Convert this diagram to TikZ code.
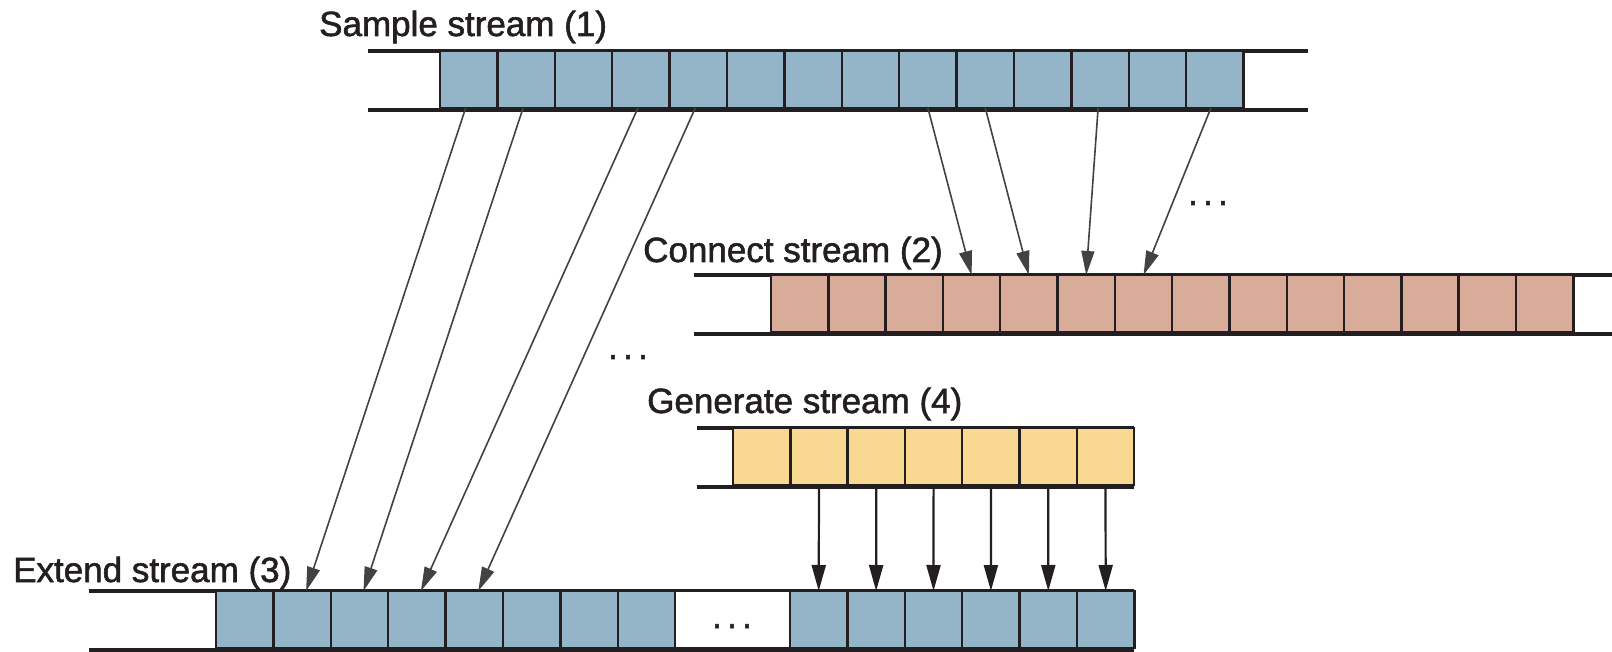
\documentclass[tikz,border=0pt]{standalone}
\usepackage{fontspec}
\setmainfont{Liberation Sans}
\newfontfamily\lblfont[FakeBold=1.6]{Liberation Sans}
\usetikzlibrary{arrows.meta}
\definecolor{cblue}{RGB}{148,180,199}
\definecolor{cpink}{RGB}{217,172,154}
\definecolor{cyel}{RGB}{249,216,145}
\definecolor{ink}{RGB}{35,31,32}
\begin{document}
\begin{tikzpicture}[x=1pt,y=-1pt,
  cell/.style={draw=ink, line width=2.4pt, minimum width=57.4pt, minimum height=57pt, inner sep=0pt, outer sep=0pt, anchor=north west},
  rail/.style={draw=ink, line width=3.6pt},
  lbl/.style={font=\lblfont\fontsize{35}{40}\selectfont, text=ink, inner sep=0pt, anchor=base west},
  dotsty/.style={font=\lblfont\fontsize{35}{40}\selectfont, text=ink, inner sep=0pt, anchor=base},
  thinarr/.style={draw=ink!85, line width=1.6pt, -{Triangle[length=24pt,width=13pt]}},
  genarr/.style={draw=ink, line width=2.2pt, -{Triangle[length=26pt,width=14pt]}}
]
\useasboundingbox (0,0) rectangle (1612,652);
% Sample stream
\draw[rail] (368,51) -- (1308,51);
\draw[rail] (368,110) -- (1308,110);
\foreach \i in {1,...,14} \node[cell, fill=cblue] (s\i) at ({440+57.4*(\i-1)},51) {};
% Connect stream
\draw[rail] (694,275) -- (1612,275);
\draw[rail] (694,334) -- (1612,334);
\foreach \i in {1,...,14} \node[cell, fill=cpink] (c\i) at ({771+57.3*(\i-1)},275) {};
% Generate stream
\draw[rail] (697,428) -- (1134,428);
\draw[rail] (697,487) -- (1134,487);
\foreach \i in {1,...,7} \node[cell, fill=cyel] (g\i) at ({733+57.3*(\i-1)},428) {};
% Extend stream
\draw[rail] (89,591) -- (1134,591);
\draw[rail] (89,650) -- (1134,650);
\foreach \i in {1,...,8} \node[cell, fill=cblue] (e\i) at ({216+57.4*(\i-1)},591) {};
\node[cell, fill=white, minimum width=114.8pt] (gap) at ({216+57.4*8},591) {};
\foreach \i in {11,...,16} \node[cell, fill=cblue] (e\i) at ({216+57.4*(\i-1)},591) {};
% Labels
\node[lbl] (l1) at (319,36) {Sample stream (1)};
\node[lbl] (l2) at (643,262) {Connect stream (2)};
\node[lbl] (l4) at (647,413) {Generate stream (4)};
\node[lbl] (l3) at (13,582) {Extend stream (3)};
% Dots
\node[dotsty] (d1) at (1208,205) {.\kern5.3pt.\kern5.3pt.};
\node[dotsty] (d2) at (628,359) {.\kern5.3pt.\kern5.3pt.};
\node[dotsty] (d3) at (732,628) {.\kern5.3pt.\kern5.3pt.};
% Arrows sample -> extend
\foreach \a/\b in {1/2,2/3,4/4,5/5}
  \draw[thinarr] ([xshift=-3pt]s\a.south) -- ([xshift=4pt]e\b.north);
% Arrows sample -> connect
\foreach \a/\b/\s in {9/4/0,10/5/0,12/6/-2,14/7/-4}
  \draw[thinarr] ([xshift=\s pt]s\a.south) -- (c\b.north);
% Arrows generate -> extend
\foreach \a/\b in {2/11,3/12,4/13,5/14,6/15,7/16}
  \draw[genarr] (g\a.south) -- (e\b.north);
\end{tikzpicture}
\end{document}
